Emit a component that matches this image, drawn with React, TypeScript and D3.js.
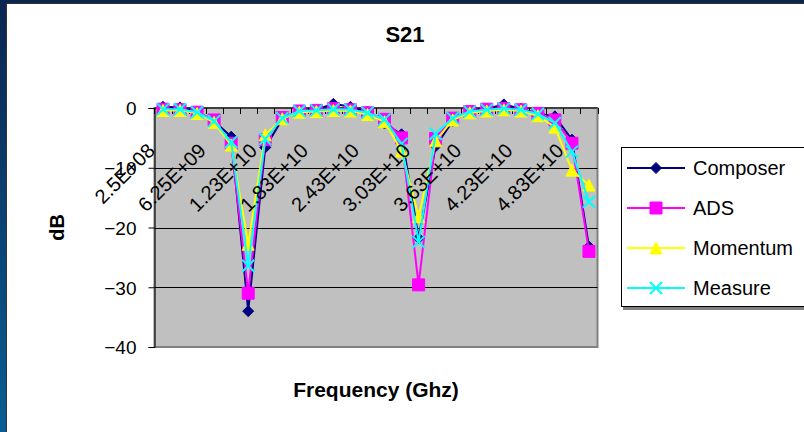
import React, { useEffect, useRef } from "react";
import * as d3 from "d3";

// category labels (frequency, Hz)
const freqLabels = [
  "2.5E+08", "2.25E+09", "4.25E+09", "6.25E+09", "8.25E+09", "1.03E+10",
  "1.23E+10", "1.43E+10", "1.63E+10", "1.83E+10", "2.03E+10", "2.23E+10",
  "2.43E+10", "2.63E+10", "2.83E+10", "3.03E+10", "3.23E+10", "3.43E+10",
  "3.63E+10", "3.83E+10", "4.03E+10", "4.23E+10", "4.43E+10", "4.63E+10",
  "4.83E+10", "5.03E+10",
];

const composer = [
  0.2, 0.1, -0.6, -2.2, -4.8, -34.0, -6.6, -1.9, -0.5, -0.3, 0.7, 0.2, -0.6,
  -2.6, -4.4, -21.8, -6.4, -2.2, -0.5, -0.1, 0.6, -0.1, -0.9, -1.4, -5.3, -23.2,
];
const ads = [
  -0.2, -0.3, -0.7, -2.0, -5.9, -31.0, -5.3, -1.6, -0.5, -0.4, -0.1, -0.3, -0.8,
  -1.9, -5.0, -29.6, -5.1, -1.7, -0.6, -0.2, -0.1, -0.3, -0.9, -2.0, -5.9, -24.0,
];
const momentum = [
  -0.4, -0.4, -0.9, -2.4, -6.2, -22.8, -4.5, -1.8, -0.7, -0.6, -0.4, -0.5, -1.1,
  -2.3, -7.2, -18.2, -5.5, -2.0, -0.8, -0.5, -0.3, -0.5, -1.3, -3.2, -10.4, -12.9,
];
const measure = [
  -0.2, -0.2, -0.7, -2.2, -5.7, -26.4, -5.2, -1.7, -0.5, -0.4, -0.2, -0.3, -0.8,
  -1.9, -6.0, -22.4, -4.3, -1.7, -0.6, -0.3, -0.1, -0.3, -1.0, -2.5, -7.3, -15.7,
];

const seriesNames = ["Composer", "ADS", "Momentum", "Measure"];
const seriesColors = ["#000080", "#FF00FF", "#FFFF00", "#00FFFF"];
const seriesShapes = ["diamond", "square", "triangle", "x"];
const yTicks = [0, -10, -20, -30, -40];

const FONT = "'Liberation Sans', Arial, sans-serif";

function markerPath(shape: string, s: number) {
  const h = s / 2;
  if (shape === "diamond") return `M0,${-h}L${h},0L0,${h}L${-h},0Z`;
  if (shape === "square") return `M${-h},${-h}H${h}V${h}H${-h}Z`;
  if (shape === "triangle") return `M0,${-h}L${h},${h}L${-h},${h}Z`;
  return `M${-h},${-h}L${h},${h}M${h},${-h}L${-h},${h}`;
}

export default function App() {
  const svgRef = useRef<SVGSVGElement>(null);

  useEffect(() => {
    const svg = d3.select(svgRef.current);
    svg.selectAll("*").remove();

    const W = 804, H = 432;
    const plot = { left: 154.5, right: 597.5, top: 108, bottom: 347 };

    // --- slide frame ---
    const defs = svg.append("defs");
    const grad = defs.append("linearGradient")
      .attr("id", "frame").attr("x1", 0).attr("y1", 0).attr("x2", 0).attr("y2", 1);
    grad.append("stop").attr("offset", "0%").attr("stop-color", "#0b2550");
    grad.append("stop").attr("offset", "100%").attr("stop-color", "#0a5d94");
    svg.append("rect").attr("width", W).attr("height", H).attr("fill", "url(#frame)");
    svg.append("rect")
      .attr("x", 6.5).attr("y", 3.5).attr("width", W + 10).attr("height", H + 10)
      .attr("fill", "#fff").attr("stroke", "#333").attr("stroke-width", 1);

    // --- scales ---
    const x = d3.scaleBand<string>()
      .domain(freqLabels)
      .range([plot.left, plot.right])
      .padding(0);
    const y = d3.scaleLinear().domain([-40, 0]).range([plot.bottom, plot.top]);
    const cx = (d: string) => (x(d) as number) + x.bandwidth() / 2;

    // --- plot area ---
    svg.append("rect")
      .attr("x", plot.left).attr("y", plot.top)
      .attr("width", plot.right - plot.left).attr("height", plot.bottom - plot.top)
      .attr("fill", "#C0C0C0").attr("stroke", "#808080").attr("stroke-width", 2);

    svg.append("g").selectAll("line")
      .data(yTicks.filter(t => t !== 0 && t !== -40))
      .join("line")
      .attr("x1", plot.left).attr("x2", plot.right)
      .attr("y1", d => Math.round(y(d)) + 0.5).attr("y2", d => Math.round(y(d)) + 0.5)
      .attr("stroke", "#000").attr("stroke-width", 1);

    // --- y axis ---
    const yAxis = svg.append("g")
      .attr("transform", `translate(${plot.left},0)`)
      .call(d3.axisLeft(y).tickValues(yTicks).tickSize(6).tickPadding(12).tickFormat(d3.format("d")));
    yAxis.select(".domain").attr("stroke", "#000");
    yAxis.selectAll("text")
      .attr("font-family", FONT).attr("font-size", 19).attr("fill", "#000")
      .attr("dy", "0.36em");

    // --- x axis at 0 (top) ---
    svg.append("line")
      .attr("x1", plot.left).attr("x2", plot.right)
      .attr("y1", y(0)).attr("y2", y(0))
      .attr("stroke", "#000").attr("stroke-width", 1.2);
    const tickPos = freqLabels.map(d => x(d) as number).concat([plot.right]);
    svg.append("g").selectAll("line")
      .data(tickPos)
      .join("line")
      .attr("x1", d => Math.round(d) + 0.5).attr("x2", d => Math.round(d) + 0.5)
      .attr("y1", y(0)).attr("y2", y(0) + 6)
      .attr("stroke", "#000");

    // --- series ---
    const allSeries = [composer, ads, momentum, measure];
    allSeries.forEach((vals, i) => {
      const g = svg.append("g");
      const line = d3.line<number>()
        .x((_, j) => cx(freqLabels[j]))
        .y(v => y(v));
      g.append("path")
        .attr("d", line(vals))
        .attr("fill", "none")
        .attr("stroke", seriesColors[i])
        .attr("stroke-width", 2);
      const shape = seriesShapes[i];
      g.selectAll("path.m")
        .data(vals)
        .join("path")
        .attr("class", "m")
        .attr("transform", (v, j) => `translate(${cx(freqLabels[j])},${y(v)})`)
        .attr("d", markerPath(shape, shape === "diamond" ? 11 : 12))
        .attr("fill", shape === "x" ? "none" : seriesColors[i])
        .attr("stroke", seriesColors[i])
        .attr("stroke-width", shape === "x" ? 2 : 1);
    });

    // --- x tick labels (every 3rd category) ---
    svg.append("g").selectAll("text")
      .data(freqLabels.filter((_, j) => j % 3 === 0))
      .join("text")
      .attr("transform", d => `translate(${cx(d) - 7},${y(0) + 44}) rotate(-45)`)
      .attr("text-anchor", "end")
      .attr("font-family", FONT).attr("font-size", 20).attr("fill", "#000")
      .text(d => d);

    // --- titles ---
    svg.append("text")
      .attr("x", 405).attr("y", 42)
      .attr("text-anchor", "middle")
      .attr("font-family", FONT).attr("font-size", 22).attr("font-weight", "bold")
      .text("S21");
    svg.append("text")
      .attr("x", (plot.left + plot.right) / 2).attr("y", 397)
      .attr("text-anchor", "middle")
      .attr("font-family", FONT).attr("font-size", 21).attr("font-weight", "bold")
      .text("Frequency (Ghz)");
    svg.append("text")
      .attr("transform", `translate(64,${(plot.top + plot.bottom) / 2}) rotate(-90)`)
      .attr("text-anchor", "middle")
      .attr("font-family", FONT).attr("font-size", 20).attr("font-weight", "bold")
      .text("dB");

    // --- legend ---
    const lg = svg.append("g").attr("transform", "translate(621,147)");
    lg.append("rect")
      .attr("x", 2).attr("y", 2).attr("width", 200).attr("height", 161)
      .attr("fill", "#808080");
    lg.append("rect")
      .attr("x", 0.5).attr("y", 0.5).attr("width", 200).attr("height", 159)
      .attr("fill", "#fff").attr("stroke", "#000");
    seriesNames.forEach((name, i) => {
      const ly = 21 + i * 40;
      lg.append("line")
        .attr("x1", 6).attr("x2", 64).attr("y1", ly).attr("y2", ly)
        .attr("stroke", seriesColors[i]).attr("stroke-width", 2);
      const shape = seriesShapes[i];
      lg.append("path")
        .attr("transform", `translate(35,${ly})`)
        .attr("d", markerPath(shape, shape === "diamond" ? 11 : 12))
        .attr("fill", shape === "x" ? "none" : seriesColors[i])
        .attr("stroke", seriesColors[i])
        .attr("stroke-width", shape === "x" ? 2 : 1);
      lg.append("text")
        .attr("x", 72).attr("y", ly + 7)
        .attr("font-family", FONT).attr("font-size", 20).attr("fill", "#000")
        .text(name);
    });
  }, []);

  return (
    <div style={{ position: "fixed", left: 0, top: 0 }}>
      <svg ref={svgRef} width={804} height={432} style={{ display: "block" }} />
    </div>
  );
}
